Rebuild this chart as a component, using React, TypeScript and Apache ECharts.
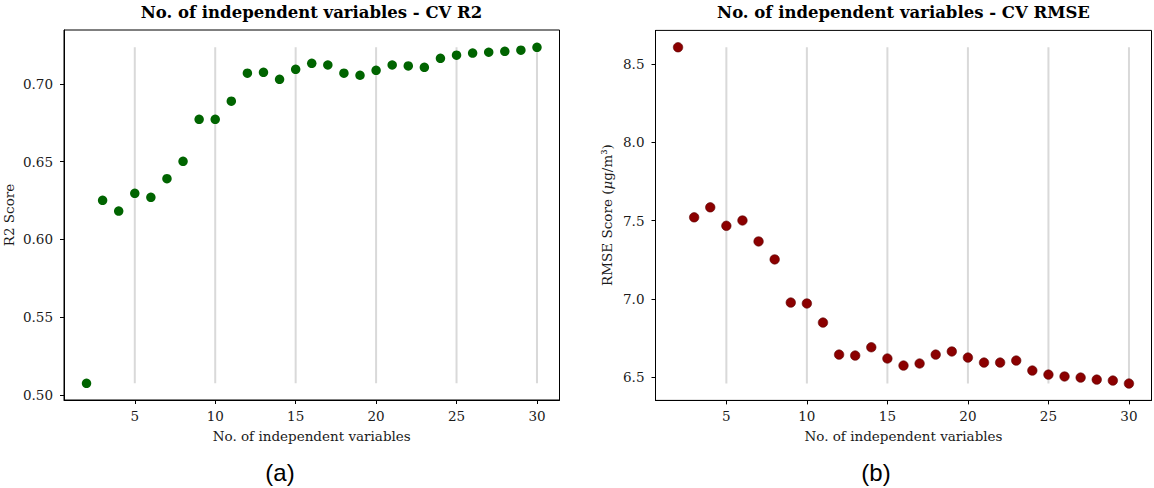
import React, { useEffect, useRef } from "react";
import * as echarts from "echarts";

// ---- Data ----
const numVars = [2, 3, 4, 5, 6, 7, 8, 9, 10, 11, 12, 13, 14, 15, 16, 17, 18, 19, 20, 21, 22, 23, 24, 25, 26, 27, 28, 29, 30];
const r2Scores = [
  0.5075, 0.6252, 0.6183, 0.6297, 0.6271, 0.6391, 0.6503, 0.6773, 0.6773, 0.6889,
  0.7069, 0.7075, 0.7030, 0.7094, 0.7133, 0.7122, 0.7069, 0.7056, 0.7088, 0.7122,
  0.7116, 0.7107, 0.7165, 0.7185, 0.7199, 0.7204, 0.7210, 0.7217, 0.7236,
];
const rmseScores = [
  8.609, 7.521, 7.585, 7.467, 7.501, 7.367, 7.252, 6.976, 6.970, 6.848,
  6.643, 6.637, 6.690, 6.618, 6.573, 6.586, 6.643, 6.663, 6.624, 6.592,
  6.592, 6.605, 6.541, 6.515, 6.503, 6.496, 6.483, 6.477, 6.458,
];
const xTicks = [5, 10, 15, 20, 25, 30];
const r2Ticks = [0.5, 0.55, 0.6, 0.65, 0.7];
const rmseTicks = [6.5, 7.0, 7.5, 8.0, 8.5];

const SERIF = "DejaVu Serif";
const TICK_FS = 13.5;

export default function App() {
  const ref = useRef<HTMLDivElement>(null);

  useEffect(() => {
    if (!ref.current) return;
    const chart = echarts.init(ref.current, undefined, { renderer: "svg" });

    const grids = [
      { left: 64, top: 30, width: 495.5, height: 370 },
      { left: 655.5, top: 30.4, width: 496, height: 370 },
    ];

    const xAxisBase = (gridIndex: number) => ({
      type: "value",
      gridIndex,
      min: 0.6,
      max: 31.4,
      axisLine: { show: true, onZero: false, lineStyle: { color: "#000", width: 1 } },
      axisTick: { show: true, length: 4, customValues: xTicks, lineStyle: { color: "#000" } },
      axisLabel: {
        customValues: xTicks,
        color: "#1a1a1a",
        fontFamily: SERIF,
        fontSize: TICK_FS,
        margin: 9,
      },
      splitLine: { show: false },
    });

    const yAxisBase = (gridIndex: number, min: number, max: number, ticks: number[], dec: number) => ({
      type: "value",
      gridIndex,
      min,
      max,
      axisLine: { show: true, onZero: false, lineStyle: { color: "#000", width: 1 } },
      axisTick: { show: true, length: 4, customValues: ticks, lineStyle: { color: "#000" } },
      axisLabel: {
        customValues: ticks,
        color: "#1a1a1a",
        fontFamily: SERIF,
        fontSize: TICK_FS,
        margin: 11,
        formatter: (v: number) => v.toFixed(dec),
      },
      splitLine: { show: false },
    });

    const vlineSeries = (idx: number, values: number[]) => {
      const lo = Math.min(...values);
      const hi = Math.max(...values);
      return xTicks.map((t) => ({
        type: "line",
        xAxisIndex: idx,
        yAxisIndex: idx,
        data: [
          [t, lo],
          [t, hi],
        ],
        showSymbol: false,
        symbol: "none",
        silent: true,
        z: 1,
        lineStyle: { color: "#d9d9d9", width: 2 },
      }));
    };

    const textEl = (text: string, x: number, y: number, opts: any = {}) => ({
      type: "text",
      x,
      y,
      rotation: opts.rotation || 0,
      style: {
        text,
        textAlign: "center",
        textVerticalAlign: "middle",
        fontFamily: opts.fontFamily || SERIF,
        fontWeight: opts.fontWeight || "normal",
        fontSize: opts.fontSize || TICK_FS,
        fill: opts.fill || "#1a1a1a",
        rich: opts.rich,
      },
    });

    const option: any = {
      animation: false,
      grid: grids.map((g) => ({ ...g, show: true, borderColor: "#000", borderWidth: 1, backgroundColor: "#fff" })),
      xAxis: [xAxisBase(0), xAxisBase(1)],
      yAxis: [
        yAxisBase(0, 0.4968, 0.7347, r2Ticks, 2),
        yAxisBase(1, 6.35, 8.717, rmseTicks, 1),
      ],
      series: [
        ...vlineSeries(0, r2Scores),
        ...vlineSeries(1, rmseScores),
        {
          type: "scatter",
          xAxisIndex: 0,
          yAxisIndex: 0,
          z: 3,
          symbolSize: 9.5,
          itemStyle: { color: "#006400", opacity: 1 },
          data: numVars.map((n, i) => [n, r2Scores[i]]),
        },
        {
          type: "scatter",
          xAxisIndex: 1,
          yAxisIndex: 1,
          z: 3,
          symbolSize: 9.5,
          itemStyle: { color: "#8b0000", borderColor: "#5a0000", borderWidth: 0.6, opacity: 1 },
          data: numVars.map((n, i) => [n, rmseScores[i]]),
        },
      ],
      graphic: [
        textEl("No. of independent variables - CV R2", 311.5, 12, { fontWeight: "bold", fontSize: 16.5, fill: "#000" }),
        textEl("No. of independent variables - CV RMSE", 903.5, 12, { fontWeight: "bold", fontSize: 16.5, fill: "#000" }),
        textEl("No. of independent variables", 311.75, 436),
        textEl("No. of independent variables", 903.5, 436),
        textEl("R2 Score", 9, 215, { rotation: Math.PI / 2 }),
        textEl("RMSE Score ({i|μ}g/m³)", 607, 215, {
          rotation: Math.PI / 2,
          rich: { i: { fontStyle: "italic", fontFamily: SERIF, fontSize: TICK_FS, fill: "#1a1a1a" } },
        }),
        textEl("(a)", 280, 472, { fontFamily: "Liberation Sans", fontSize: 24, fill: "#000" }),
        textEl("(b)", 876, 472, { fontFamily: "Liberation Sans", fontSize: 24, fill: "#000" }),
      ],
    };

    chart.setOption(option);
    return () => chart.dispose();
  }, []);

  return (
    <div
      ref={ref}
      style={{ position: "fixed", left: 0, top: 0, width: 1154, height: 488, background: "#fff" }}
    />
  );
}
